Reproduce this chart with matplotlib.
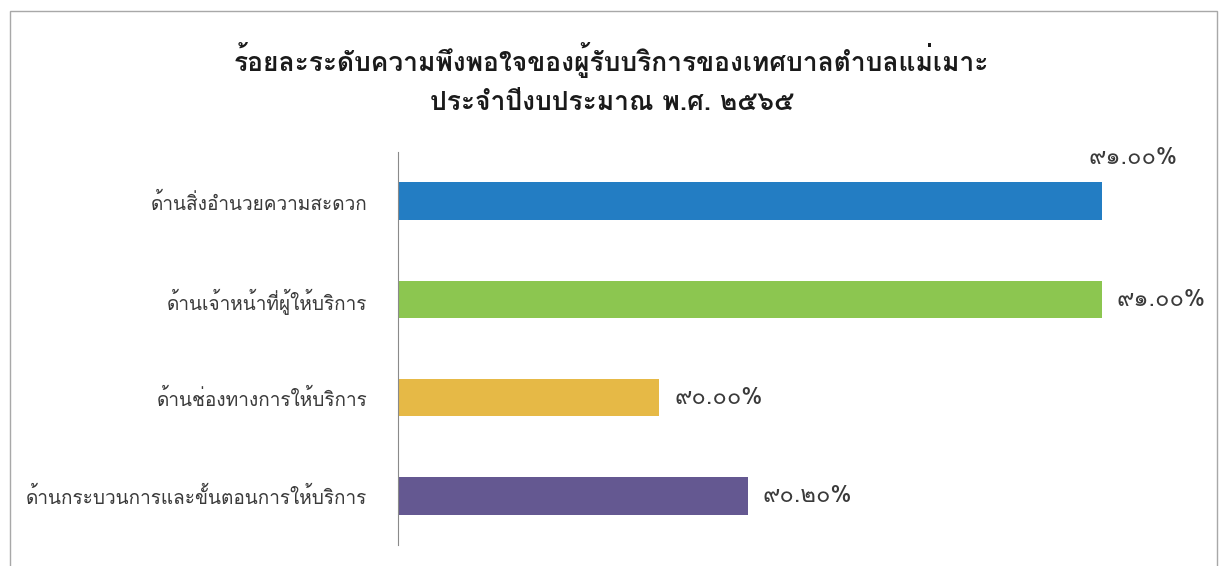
import matplotlib
matplotlib.use("Agg")
import matplotlib.pyplot as plt
from matplotlib.patches import Rectangle

plt.rcParams['font.family'] = ['Loma', 'DejaVu Sans']

# ข้อมูลร้อยละความพึงพอใจ
categories = ["ด้านสิ่งอำนวยความสะดวก", "ด้านเจ้าหน้าที่ผู้ให้บริการ",
              "ด้านช่องทางการให้บริการ", "ด้านกระบวนการและขั้นตอนการให้บริการ"]
values = [91.00, 91.00, 90.00, 90.20]
value_labels = ["๙๑.๐๐%", "๙๑.๐๐%", "๙๐.๐๐%", "๙๐.๒๐%"]
colors = ["#237DC3", "#8CC650", "#E6B946", "#645891"]
title_lines = ["ร้อยละระดับความพึงพอใจของผู้รับบริการของเทศบาลตำบลแม่เมาะ",
               "ประจำปีงบประมาณ พ.ศ. ๒๕๖๕"]

fig = plt.figure(figsize=(12.23, 5.66), dpi=100)

# กรอบรอบกราฟ
fig.patches.append(Rectangle((10 / 1223, -0.05), 1207 / 1223, 1.05 - 11 / 566,
                             transform=fig.transFigure, fill=False,
                             edgecolor="#a8a8a8", linewidth=1))

ax = fig.add_axes([398 / 1223, 1 - 545 / 566, 792 / 1223, 393 / 566])
y = list(range(len(categories)))
ax.barh(y, values, height=0.38, color=colors)
ax.set_xlim(89.41, 91.2)
ax.set_ylim(len(categories) - 0.5, -0.5)

ax.set_yticks(y)
ax.set_yticklabels(categories, fontsize=13.7, color="#3a3a3a")
ax.tick_params(axis="y", length=0, pad=22)
ax.set_xticks([])
for side in ["top", "right", "bottom"]:
    ax.spines[side].set_visible(False)
ax.spines["left"].set_color("#8a8a8a")

# ป้ายค่า
for i, (v, lab) in enumerate(zip(values, value_labels)):
    if i == 0:
        ax.annotate(lab, (v, i), xytext=(31, 44), textcoords="offset pixels",
                    ha="center", va="center", fontsize=17, color="#3a3a3a")
    else:
        ax.annotate(lab, (v, i), xytext=(15, 0), textcoords="offset pixels",
                    ha="left", va="center", fontsize=17, color="#3a3a3a")

fig.text(0.5, 1 - 60 / 566, title_lines[0], ha="center", va="center", fontsize=19,
         fontweight="bold", color="#1a1a1a")
fig.text(0.5, 1 - 103 / 566, title_lines[1], ha="center", va="center", fontsize=19,
         fontweight="bold", color="#1a1a1a")

fig.savefig("out.png", dpi=100)
